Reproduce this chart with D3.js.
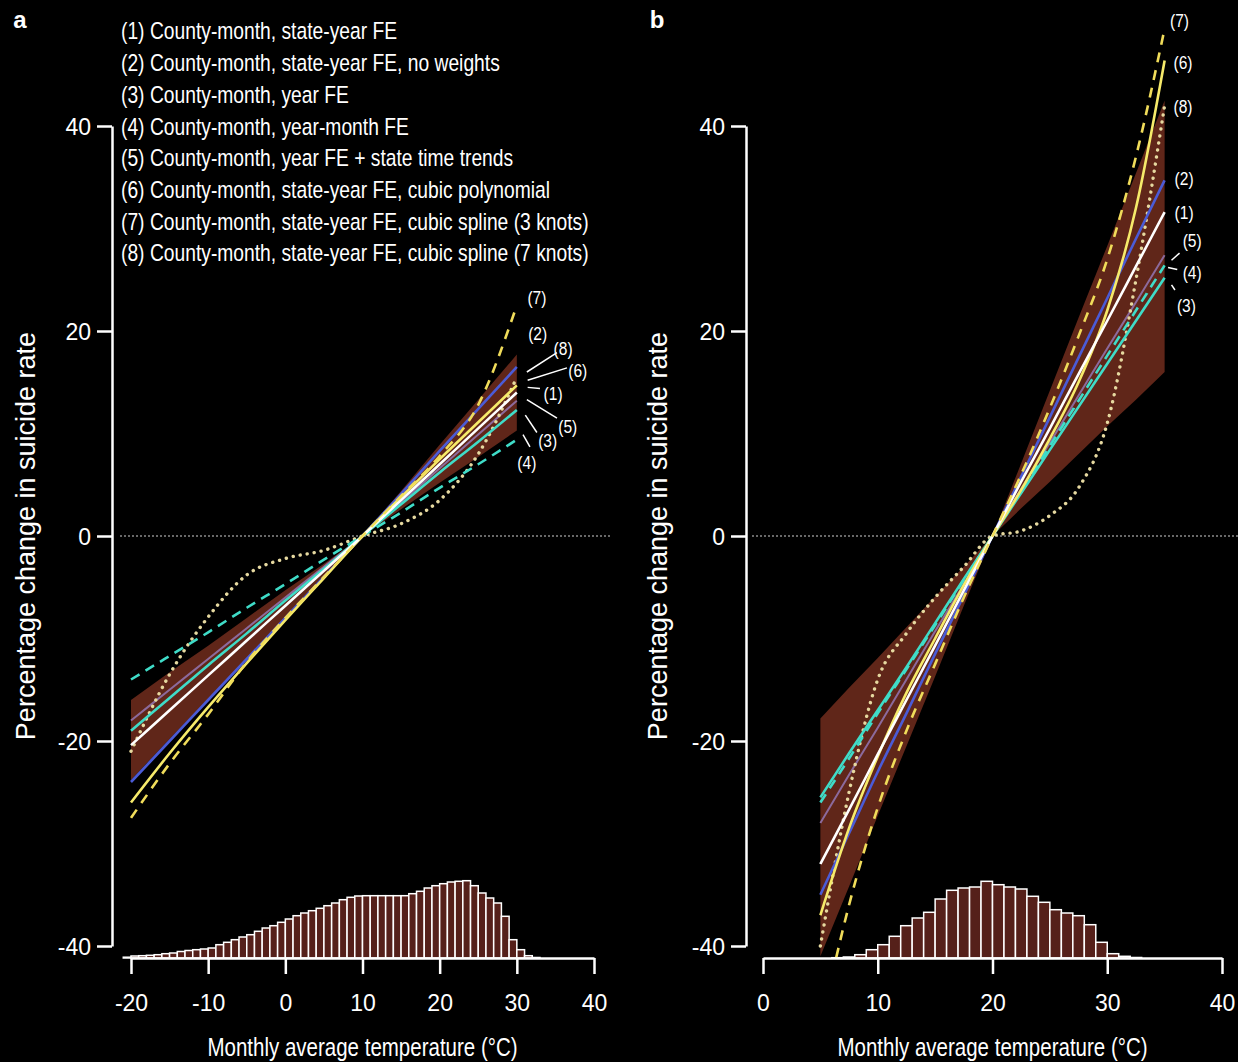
<!DOCTYPE html>
<html>
<head>
<meta charset="utf-8">
<script src="https://cdn.jsdelivr.net/npm/d3@7"></script>
<style>
  body { margin: 0; background: #000; }
  text { fill: #fff; }
</style>
</head>
<body>
<svg id="chart" width="1238" height="1062"></svg>
<script>
// ---- data ----
var modelNames = [
  "(1) County-month, state-year FE",
  "(2) County-month, state-year FE, no weights",
  "(3) County-month, year FE",
  "(4) County-month, year-month FE",
  "(5) County-month, year FE + state time trends",
  "(6) County-month, state-year FE, cubic polynomial",
  "(7) County-month, state-year FE, cubic spline (3 knots)",
  "(8) County-month, state-year FE, cubic spline (7 knots)"
];
var modelIds = ["(1)", "(2)", "(3)", "(4)", "(5)", "(6)", "(7)", "(8)"];

var yTicks = [-40, -20, 0, 20, 40];
var xTicksA = [-20, -10, 0, 10, 20, 30, 40];
var xTicksB = [0, 10, 20, 30, 40];

// panel a: US, response relative to 10C
var tempsA = [-20, -15, -10, -5, 0, 5, 10, 15, 20, 25, 30];
var effectsA = [
  [-20.4, -17, -13.6, -10.2, -6.8, -3.4, 0, 3.5, 7, 10.5, 14],
  [-24, -20, -16, -12, -8, -4, 0, 4.1, 8.3, 12.4, 16.5],
  [-19, -15.8, -12.6, -9.5, -6.3, -3.2, 0, 3.1, 6.2, 9.2, 12.3],
  [-14, -11.7, -9.4, -7, -4.7, -2.3, 0, 2.3, 4.7, 7, 9.4],
  [-18, -15, -12, -9, -6, -3, 0, 3.3, 6.6, 9.9, 13.2],
  [-26, -21.2, -16.7, -12.4, -8.2, -4.1, 0, 3.8, 7.5, 11.1, 14.7],
  [-27.5, -22.2, -17.4, -12.3, -8, -4, 0, 3.9, 7.8, 12.8, 22.5],
  [-21, -13.5, -7.9, -3.8, -2.2, -1.4, 0, 1.2, 3.5, 8, 15.5]
];
var ciUpperA = [-16, -13.3, -10.7, -8, -5.3, -2.7, 0, 4.4, 8.9, 13.3, 17.7];
var ciLowerA = [-23.8, -19.8, -15.9, -11.9, -7.9, -4, 0, 2.6, 5.2, 7.7, 10.3];
var histStartA = -21;
var histA = [0.8, 2, 2.3, 2.7, 3.3, 4.3, 5, 6.5, 7.5, 8.3, 9,
  10, 13.3, 15.7, 18.3, 21, 23.3, 26.7, 30, 32.3, 35.7, 39, 42.3, 45, 47.3, 49.7,
  52.3, 55, 58.3, 60.7, 62, 62.3, 62.3, 62.3, 62.3, 62.3, 62.3, 64.3, 66.7, 70, 72.3,
  74.3, 76, 76.7, 77.3, 72.3, 65, 60, 55, 41.7, 18.3, 8.3, 2.3, 0.5];
// end labels [temp, value] and leader lines [t1, v1, t2, v2]
var labelPosA = [[34.7, 13.9], [32.7, 19.8], [34.0, 9.4], [31.3, 7.2], [36.6, 10.7], [37.9, 16.2], [32.6, 23.3], [36.0, 18.3]];
var leadersA = [[31.4, 14.5, 33.0, 14.4], null, [31.1, 11.8, 32.6, 10.1], [30.8, 9.9, 31.7, 8.7],
  [31.3, 13.3, 35.2, 11.5], [31.4, 15.2, 36.5, 16.4], null, [31.3, 16.0, 35.2, 17.9]];

// panel b: Mexico, response relative to 20C
var tempsB = [5, 7.5, 10, 12.5, 15, 17.5, 20, 22.5, 25, 27.5, 30, 32.5, 35];
var effectsB = [
  [-32, -26.7, -21.3, -16, -10.7, -5.3, 0, 5.3, 10.5, 15.8, 21, 26.3, 31.6],
  [-35, -29, -23, -17.3, -11.5, -5.8, 0, 5.8, 11.6, 17.4, 23.2, 29, 34.7],
  [-25.5, -21.2, -17, -12.8, -8.5, -4.2, 0, 4.2, 8.4, 12.6, 16.8, 21, 25.2],
  [-26, -21.7, -17.3, -13, -8.7, -4.3, 0, 4.4, 8.8, 13.2, 17.6, 22, 26.4],
  [-28, -23.3, -18.7, -14, -9.3, -4.7, 0, 4.6, 9.1, 13.7, 18.3, 22.8, 27.4],
  [-37, -28.5, -21.5, -15.3, -10, -4.8, 0, 4.5, 9.5, 15, 22, 32, 46.4],
  [-48, -36, -26.5, -19, -12.5, -6, 0, 6, 12.5, 19.5, 27, 37, 49.5],
  [-40, -25, -14, -9.5, -6, -3, 0, 0.5, 2, 4.7, 11, 25, 42]
];
var ciUpperB = [-17.8, -14.8, -11.9, -8.9, -5.9, -3, 0, 7.1, 14.2, 21.3, 28.3, 35.4, 42.5];
var ciLowerB = [-41, -34.2, -27.3, -20.5, -13.7, -6.8, 0, 2.7, 5.3, 8, 10.7, 13.3, 16];
var histStartB = 6;
var histB = [0.3, 1, 3.3, 8.3, 13.3, 21.7, 32.3, 40, 45.7, 59, 67.7, 70, 71, 76.7,
  73.3, 71, 69, 61.7, 55.7, 48.3, 45, 42.3, 33.3, 15.7, 4.3, 1.7, 0.5];
var labelPosB = [[36.7, 31.6], [36.7, 34.9], [36.9, 22.5], [37.4, 25.7], [37.4, 28.9], [36.6, 46.2], [36.3, 50.3], [36.6, 41.9]];
var leadersB = [null, null, [35.6, 24.5, 35.9, 24.0], [35.3, 26.2, 36.1, 26.0], [35.6, 26.9, 36.3, 27.6], null, null, null];

// ---- styling ----
var FONT = "'Liberation Sans', Arial, sans-serif";
var lineStyle = [
  { color: "#ffffff", dash: null, width: 2.6 },
  { color: "#4b5bd6", dash: null, width: 2.6 },
  { color: "#3fdcc8", dash: null, width: 2.6 },
  { color: "#3fdcc8", dash: "10,7", width: 2.6 },
  { color: "#8c6a9c", dash: null, width: 2 },
  { color: "#f6ea6a", dash: null, width: 2.6 },
  { color: "#f0dc5a", dash: "10,8", width: 2.6 },
  { color: "#e6d9a0", dash: "0.1,7", width: 3.4 }
];
var drawOrder = [4, 7, 1, 2, 3, 5, 0, 6];

var svg = d3.select("#chart");
svg.append("rect").attr("width", 1238).attr("height", 1062).attr("fill", "#000");

function narrowText(g, x, y, str, size, anchor) {
  return g.append("text")
    .attr("transform", "translate(" + x + "," + y + ") scale(0.82,1)")
    .attr("font-family", FONT)
    .attr("font-size", size)
    .attr("text-anchor", anchor || "start")
    .attr("dy", "0.36em")
    .text(str);
}

function drawPanel(p) {
  var g = svg.append("g");
  var x = d3.scaleLinear().domain(p.xDomain).range(p.xRange);
  var y = d3.scaleLinear().domain([-40, 40]).range([946, 126]);
  var hy = d3.scaleLinear().domain([0, 80]).range([958, 878]);

  g.append("clipPath").attr("id", p.id + "-clip")
    .append("rect").attr("x", p.xRange[0] - 40).attr("y", 0)
    .attr("width", p.xRange[1] - p.xRange[0] + 80).attr("height", 962);

  // reference line at zero
  g.append("line")
    .attr("x1", p.zeroLine[0]).attr("x2", p.zeroLine[1])
    .attr("y1", y(0)).attr("y2", y(0))
    .attr("stroke", "#8a8a8a").attr("stroke-width", 1.5)
    .attr("stroke-dasharray", "2,2");

  // temperature histogram
  g.append("g").selectAll("rect")
    .data(p.hist)
    .join("rect")
    .attr("x", function(d, i) { return x(p.histStart + i); })
    .attr("width", function(d, i) { return x(p.histStart + i + 1) - x(p.histStart + i); })
    .attr("y", function(d) { return hy(d); })
    .attr("height", function(d) { return hy(0) - hy(d); })
    .attr("fill", "#55201a")
    .attr("stroke", "#fff")
    .attr("stroke-width", 1.5);

  var plot = g.append("g").attr("clip-path", "url(#" + p.id + "-clip)");

  // confidence band of model (1)
  var area = d3.area()
    .x(function(d, i) { return x(p.temps[i]); })
    .y0(function(d, i) { return y(p.ciLower[i]); })
    .y1(function(d) { return y(d); });
  plot.append("path").datum(p.ciUpper)
    .attr("d", area)
    .attr("fill", "#6a2a1c")
    .attr("fill-opacity", 0.9);

  var line = d3.line()
    .x(function(d, i) { return x(p.temps[i]); })
    .y(function(d) { return y(d); })
    .curve(d3.curveMonotoneX);

  drawOrder.forEach(function(k) {
    var s = lineStyle[k];
    plot.append("path").datum(p.effects[k])
      .attr("d", line)
      .attr("fill", "none")
      .attr("stroke", s.color)
      .attr("stroke-width", s.width)
      .attr("stroke-linecap", s.dash && s.dash.indexOf("0.1") === 0 ? "round" : "butt")
      .attr("stroke-dasharray", s.dash);
  });

  // end labels
  p.labelPos.forEach(function(d, i) {
    narrowText(g, x(d[0]), y(d[1]), modelIds[i], 19, "middle");
    var l = p.leaders[i];
    if (l) {
      g.append("line")
        .attr("x1", x(l[0])).attr("y1", y(l[1]))
        .attr("x2", x(l[2])).attr("y2", y(l[3]))
        .attr("stroke", "#fff").attr("stroke-width", 1.5);
    }
  });

  // axes (plain hyphen minus, as in the figure)
  var fmt = function(d) { return String(d); };
  var yAxis = d3.axisLeft(y).tickValues(yTicks).tickFormat(fmt)
    .tickSize(15).tickSizeOuter(0).tickPadding(6);
  var ya = g.append("g").attr("transform", "translate(" + p.yAxisX + ",0)").call(yAxis);
  var xAxis = d3.axisBottom(x).tickValues(p.xTicks).tickFormat(fmt)
    .tickSize(16).tickSizeOuter(0).tickPadding(21);
  var xa = g.append("g").attr("transform", "translate(0,958)").call(xAxis);
  [ya, xa].forEach(function(a) {
    a.select(".domain").attr("stroke", "#fff").attr("stroke-width", 2.5);
    a.selectAll(".tick line").attr("stroke", "#fff").attr("stroke-width", 2.5);
    a.selectAll(".tick text").attr("fill", "#fff")
      .attr("font-family", FONT).attr("font-size", 23);
  });
  ya.selectAll(".tick text").attr("dy", "0.36em");

  narrowText(g, x(p.xDomain[0] + (p.xDomain[1] - p.xDomain[0]) / 2), 1047,
    "Monthly average temperature (\u00b0C)", 25, "middle");

  g.append("text")
    .attr("transform", "translate(" + p.yTitleX + ",536) rotate(-90)")
    .attr("font-family", FONT).attr("font-size", 27)
    .attr("text-anchor", "middle").attr("dy", "0.36em")
    .text("Percentage change in suicide rate");

  g.append("text")
    .attr("x", p.letterX).attr("y", 28)
    .attr("font-family", FONT).attr("font-size", 24).attr("font-weight", "bold")
    .attr("text-anchor", "middle")
    .text(p.letter);
}

drawPanel({
  id: "pa", letter: "a", letterX: 20,
  xDomain: [-20, 40], xRange: [131, 594], xTicks: xTicksA,
  yAxisX: 112, yTitleX: 25, zeroLine: [120, 612],
  temps: tempsA, effects: effectsA, ciUpper: ciUpperA, ciLower: ciLowerA,
  hist: histA, histStart: histStartA, labelPos: labelPosA, leaders: leadersA
});
drawPanel({
  id: "pb", letter: "b", letterX: 657,
  xDomain: [0, 40], xRange: [763, 1222], xTicks: xTicksB,
  yAxisX: 746, yTitleX: 657, zeroLine: [752, 1238],
  temps: tempsB, effects: effectsB, ciUpper: ciUpperB, ciLower: ciLowerB,
  hist: histB, histStart: histStartB, labelPos: labelPosB, leaders: leadersB
});

// legend (text only, as in the figure)
var legend = svg.append("g");
modelNames.forEach(function(name, i) {
  narrowText(legend, 121, 31 + i * 31.7, name, 23.5, "start");
});
</script>
</body>
</html>
